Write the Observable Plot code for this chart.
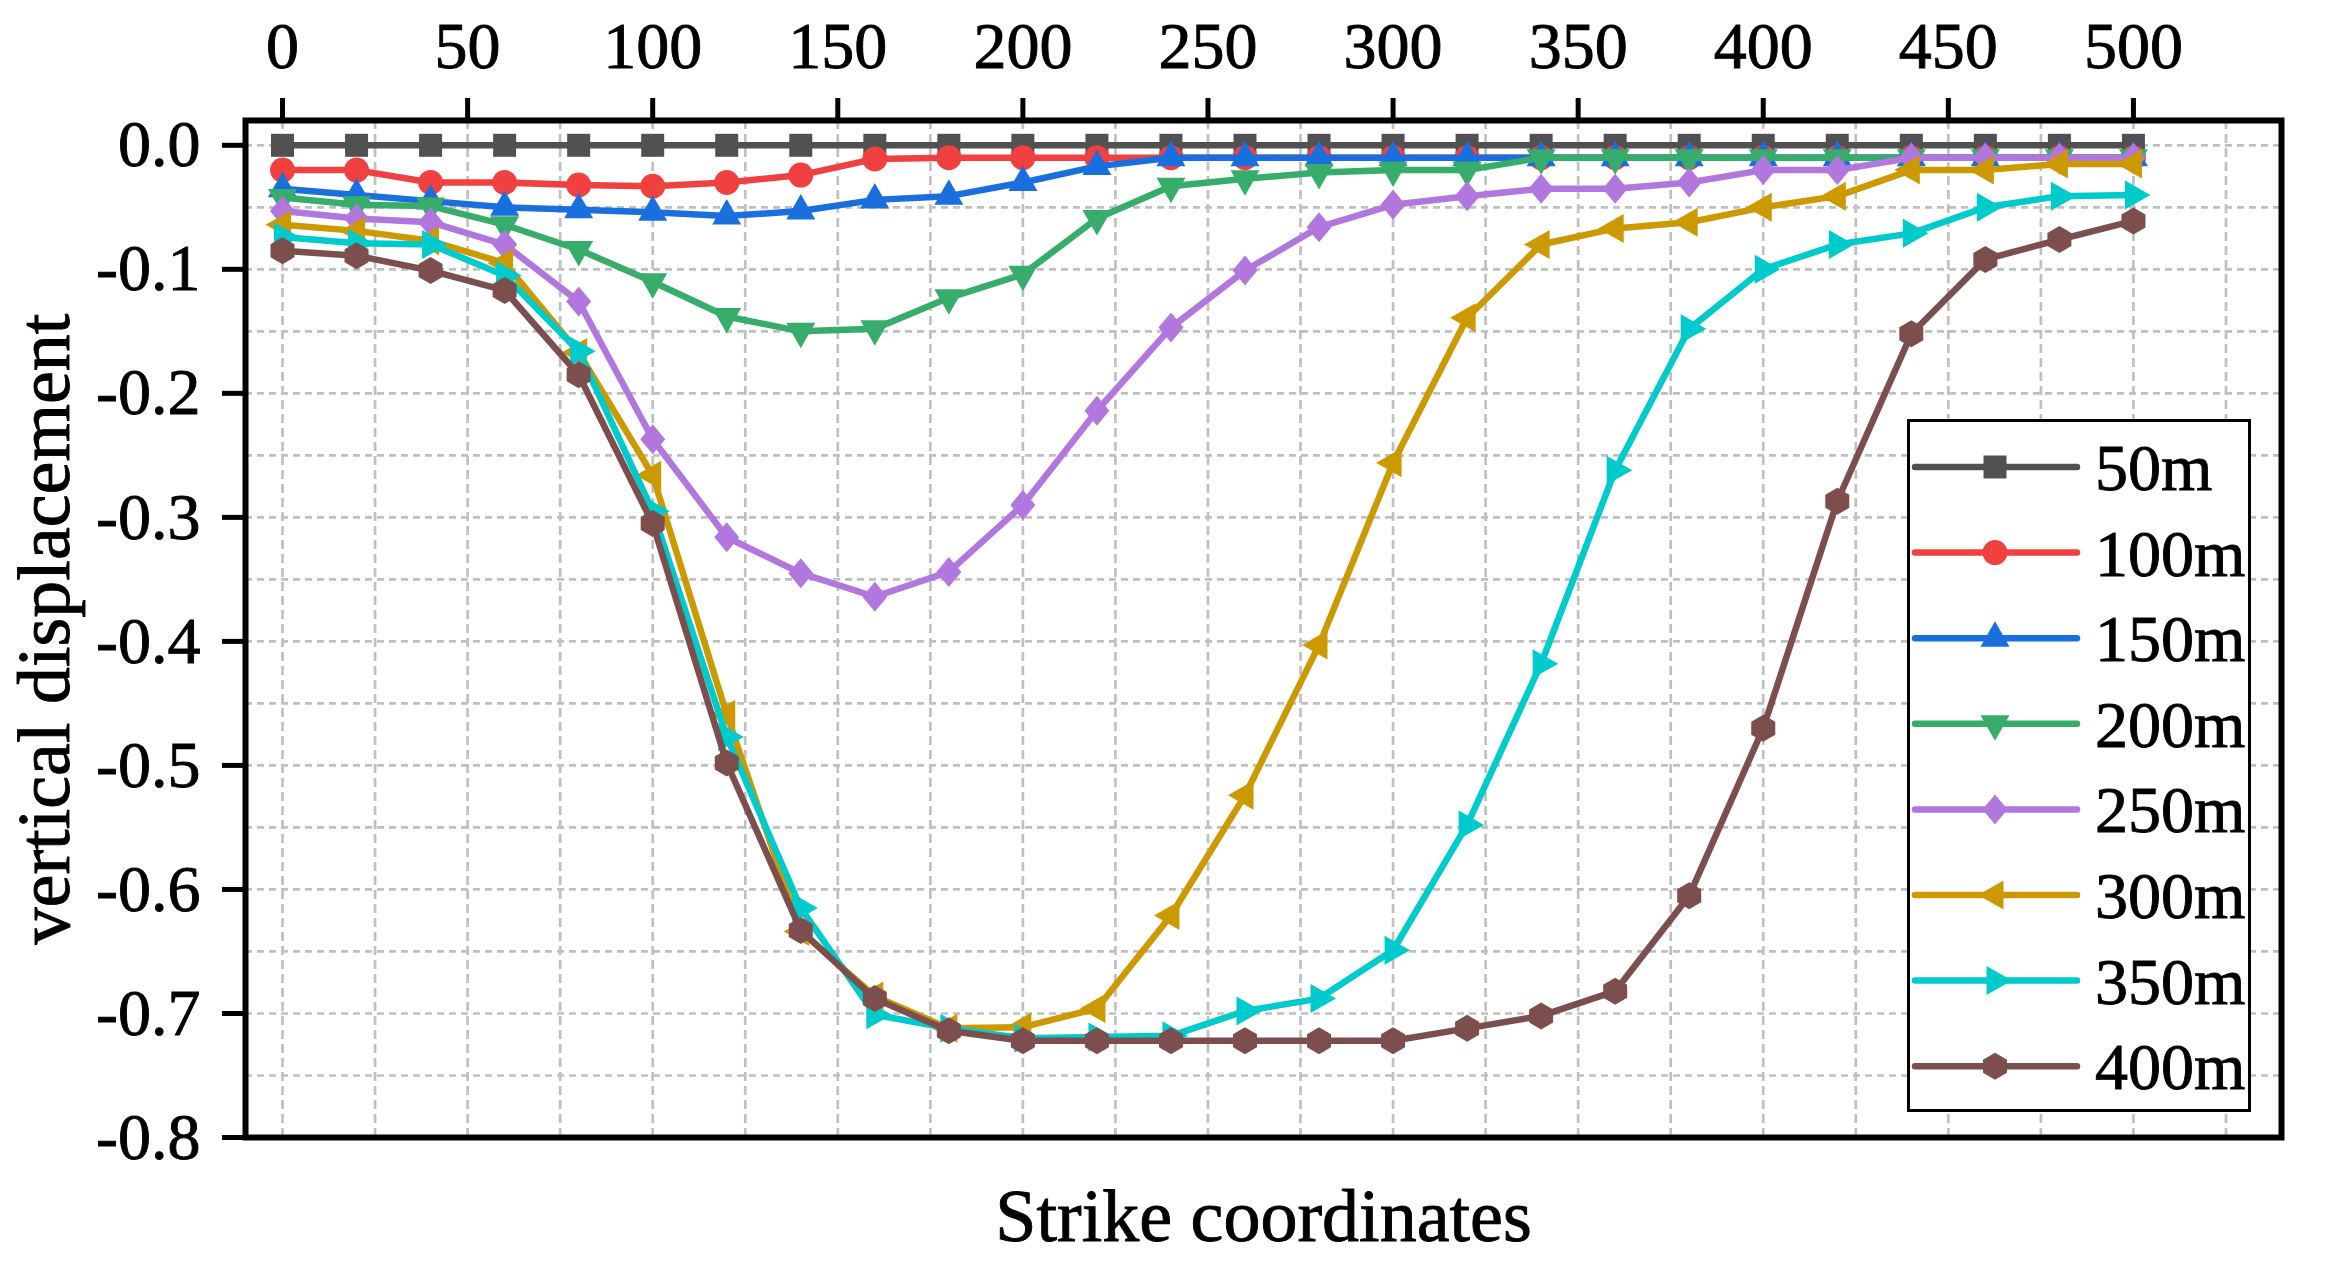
<!DOCTYPE html>
<html>
<head>
<meta charset="utf-8">
<script src="https://cdn.jsdelivr.net/npm/d3@7"></script>
<script src="https://cdn.jsdelivr.net/npm/@observablehq/plot@0.6"></script>
<style>
html, body { margin: 0; padding: 0; background: #fff; overflow: hidden; }
#wrap { position: relative; width: 2327px; height: 1266px; }
#wrap svg text { stroke: #000; stroke-width: 0.9px; }
#legend { position: absolute; left: 1907px; top: 419px; width: 344px; height: 693px; box-sizing: border-box; border: 3px solid #000; background: #fff; }
</style>
</head>
<body>
<div id="wrap"></div>
<script>
// ---- data ----
const strike = [0,20,40,60,80,100,120,140,160,180,200,220,240,260,280,300,320,340,360,380,400,420,440,460,480,500];
const seriesNames = ["50m","100m","150m","200m","250m","300m","350m","400m"];
const d50  = [0,0,0,0,0,0,0,0,0,0,0,0,0,0,0,0,0,0,0,0,0,0,0,0,0,0];
const d100 = [-0.02,-0.02,-0.03,-0.03,-0.032,-0.033,-0.03,-0.024,-0.011,-0.01,-0.01,-0.01,-0.01,-0.01,-0.01,-0.01,-0.01,-0.01,-0.01,-0.01,-0.01,-0.01,-0.01,-0.01,-0.01,-0.01];
const d150 = [-0.035,-0.04,-0.045,-0.05,-0.052,-0.054,-0.057,-0.053,-0.044,-0.041,-0.03,-0.017,-0.01,-0.01,-0.01,-0.01,-0.01,-0.01,-0.01,-0.01,-0.01,-0.01,-0.01,-0.01,-0.01,-0.01];
const d200 = [-0.042,-0.048,-0.049,-0.064,-0.084,-0.11,-0.138,-0.15,-0.148,-0.123,-0.104,-0.059,-0.033,-0.027,-0.022,-0.02,-0.02,-0.01,-0.01,-0.01,-0.01,-0.01,-0.01,-0.01,-0.01,-0.01];
const d250 = [-0.053,-0.059,-0.062,-0.08,-0.126,-0.237,-0.316,-0.345,-0.364,-0.344,-0.29,-0.214,-0.147,-0.101,-0.066,-0.048,-0.041,-0.035,-0.035,-0.03,-0.02,-0.02,-0.01,-0.01,-0.01,-0.01];
const d300 = [-0.064,-0.069,-0.077,-0.095,-0.167,-0.266,-0.459,-0.634,-0.686,-0.712,-0.711,-0.696,-0.621,-0.524,-0.403,-0.256,-0.139,-0.08,-0.067,-0.062,-0.05,-0.041,-0.02,-0.02,-0.015,-0.015];
const d350 = [-0.074,-0.079,-0.08,-0.105,-0.166,-0.295,-0.477,-0.615,-0.701,-0.712,-0.72,-0.719,-0.718,-0.698,-0.688,-0.649,-0.548,-0.418,-0.262,-0.148,-0.1,-0.08,-0.071,-0.05,-0.041,-0.04];
const d400 = [-0.085,-0.089,-0.101,-0.117,-0.185,-0.305,-0.498,-0.633,-0.688,-0.714,-0.722,-0.722,-0.722,-0.722,-0.722,-0.722,-0.712,-0.702,-0.682,-0.605,-0.47,-0.287,-0.152,-0.092,-0.076,-0.061];
const xTicks = [0,50,100,150,200,250,300,350,400,450,500];
const xGrid = [0,25,50,75,100,125,150,175,200,225,250,275,300,325,350,375,400,425,450,475,500,525];
const yTicks = [-0.8,-0.7,-0.6,-0.5,-0.4,-0.3,-0.2,-0.1,0.0];
const yGrid = [-0.8,-0.75,-0.7,-0.65,-0.6,-0.55,-0.5,-0.45,-0.4,-0.35,-0.3,-0.25,-0.2,-0.15,-0.1,-0.05,0.0];
const xTitle = "Strike coordinates";
const yTitle = "vertical displacement";

// ---- styles ----
const colors = ["#515151","#F14040","#1A6FDF","#37AD6B","#B177DE","#CC9900","#00CBCC","#7D4E4E"];
function poly(pts) {
  return { draw(ctx) { ctx.moveTo(pts[0][0], pts[0][1]); for (let i = 1; i < pts.length; i++) ctx.lineTo(pts[i][0], pts[i][1]); ctx.closePath(); } };
}
const symSquare = poly([[-11.5,-11.5],[11.5,-11.5],[11.5,11.5],[-11.5,11.5]]);
const symCircle = { draw(ctx) { ctx.moveTo(12.5, 0); ctx.arc(0, 0, 12.5, 0, 2 * Math.PI); ctx.closePath(); } };
const symUp = poly([[0,-17],[14.5,8.5],[-14.5,8.5]]);
const symDown = poly([[0,17],[14.5,-8.5],[-14.5,-8.5]]);
const symLeft = poly([[-17,0],[8.5,-14.5],[8.5,14.5]]);
const symRight = poly([[17,0],[-8.5,-14.5],[-8.5,14.5]]);
const symDiamond = poly([[0,-15],[12.5,0],[0,15],[-12.5,0]]);
const symHex = poly([[0,-13.5],[12,-6.5],[12,6.5],[0,13.5],[-12,6.5],[-12,-6.5]]);
const symbols = [symSquare, symCircle, symUp, symDown, symDiamond, symLeft, symRight, symHex];
const allData = [d50,d100,d150,d200,d250,d300,d350,d400];

const serif = '"Liberation Serif", "Times New Roman", serif';
const fmtY = d => Math.abs(d) < 1e-9 ? "0.0" : d.toFixed(1);

const seriesMarks = [];
allData.forEach((vals, k) => {
  const rows = strike.map((x, i) => ({x, y: vals[i]}));
  seriesMarks.push(Plot.line(rows, {x: "x", y: "y", stroke: colors[k], strokeWidth: 6.5}));
  seriesMarks.push(Plot.dot(rows, {x: "x", y: "y", symbol: symbols[k], fill: colors[k], stroke: "none", r: 10}));
});

const chart = Plot.plot({
  width: 2327,
  height: 1266,
  marginLeft: 245,
  marginRight: 46,
  marginTop: 120,
  marginBottom: 129,
  x: {domain: [-10, 540]},
  y: {domain: [-0.8, 0.02]},
  style: {fontFamily: serif, fontSize: "64px", color: "#000", background: "#fff", overflow: "visible"},
  marks: [
    Plot.gridX(xGrid, {stroke: "#c0c0c0", strokeOpacity: 1, strokeWidth: 2.7, strokeDasharray: "9,5"}),
    Plot.gridY(yGrid, {stroke: "#c0c0c0", strokeOpacity: 1, strokeWidth: 2.7, strokeDasharray: "7,5"}),
    ...seriesMarks,
    Plot.frame({stroke: "#000", strokeWidth: 6}),
    Plot.axisX(xTicks, {anchor: "top", tickSize: 23, tickPadding: 30, strokeWidth: 5, fontSize: 66, tickFormat: d => String(d), label: null, fill: "#000"}),
    Plot.axisY(yTicks, {anchor: "left", tickSize: 23, tickPadding: 22, strokeWidth: 5, fontSize: 66, tickFormat: fmtY, label: null, fill: "#000"}),
    Plot.text([xTitle], {frameAnchor: "bottom", dy: 103, fontSize: 74, lineAnchor: "bottom", textAnchor: "middle", fill: "#000"}),
    Plot.text([yTitle], {frameAnchor: "left", dx: -200, rotate: -90, fontSize: 74, textAnchor: "middle", lineAnchor: "middle", fill: "#000"})
  ]
});

const wrap = document.getElementById("wrap");
wrap.appendChild(chart);

// ---- legend (inside plot area, lower right) ----
const legend = document.createElement("div");
legend.id = "legend";
wrap.appendChild(legend);
const lsvg = d3.select(legend).append("svg").attr("width", 338).attr("height", 687)
  .style("position", "absolute").style("left", "0px").style("top", "0px");
seriesNames.forEach((name, k) => {
  const cy = 45 + k * 85.6;
  const g = lsvg.append("g");
  g.append("line").attr("x1", 5).attr("x2", 167).attr("y1", cy).attr("y2", cy)
    .attr("stroke", colors[k]).attr("stroke-width", 6.5).attr("stroke-linecap", "round");
  const p = d3.path();
  symbols[k].draw(p);
  g.append("path").attr("d", p.toString()).attr("transform", `translate(85,${cy})`).attr("fill", colors[k]);
  g.append("text").attr("x", 185).attr("y", cy + 23).text(name)
    .attr("font-family", serif).attr("font-size", 66).attr("fill", "#000");
});
</script>
</body>
</html>
